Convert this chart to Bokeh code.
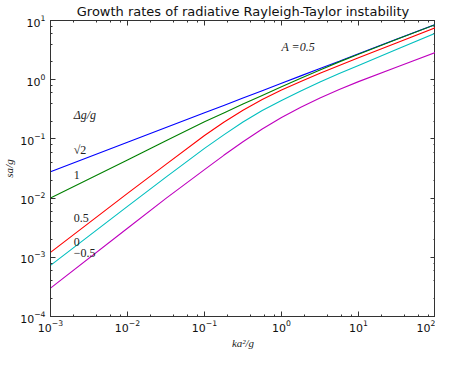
from bokeh.plotting import figure
from bokeh.models import LogAxis, LogTicker, Label, CustomJSTickFormatter
from bokeh.embed import file_html
from bokeh.resources import INLINE

# ---- data ----
ka2_g = [1e-3, 1e-2, 3.16e-2, 0.1, 0.178, 0.316, 0.562, 1.0, 1.78, 3.16, 5.62, 10.0, 31.6, 100.0]

s_sqrt2 = [0.0279, 0.0877, 0.156, 0.276, 0.368, 0.490, 0.653, 0.869, 1.16, 1.54, 2.05, 2.74, 4.85, 8.61]
s_1     = [0.0100, 0.0442, 0.0933, 0.195, 0.275, 0.387, 0.543, 0.762, 1.06, 1.46, 2.00, 2.70, 4.81, 8.55]
s_05    = [1.21e-3, 0.0120, 0.0372, 0.114, 0.191, 0.305, 0.462, 0.668, 0.933, 1.28, 1.74, 2.34, 4.22, 7.59]
s_0     = [7.30e-4, 7.24e-3, 0.0226, 0.0692, 0.117, 0.193, 0.302, 0.447, 0.646, 0.912, 1.27, 1.74, 3.26, 6.10]
s_m05   = [3.02e-4, 3.09e-3, 9.89e-3, 0.0302, 0.0528, 0.0896, 0.147, 0.230, 0.343, 0.490, 0.680, 0.928, 1.64, 2.88]

series = [s_sqrt2, s_1, s_05, s_0, s_m05]
colors = ["#0000ff", "#008000", "#ff0000", "#00bfbf", "#bf00bf"]

label_texts = ["Δg/g", "√2", "1", "0.5", "0", "−0.5"]
label_x = [0.002, 0.002, 0.002, 0.002, 0.002, 0.002]
label_y = [0.257, 0.066, 0.0243, 0.0047, 0.00183, 0.00119]

title_text = "Growth rates of radiative Rayleigh-Taylor instability"

p = figure(width=435, height=351, x_axis_type="log", y_axis_type="log",
           x_range=(1e-3, 1e2), y_range=(1e-4, 1e1),
           output_backend="svg", toolbar_location=None, title=title_text)
p.min_border_left = 42
p.min_border_right = 0
p.min_border_top = 14
p.min_border_bottom = 34
p.background_fill_color = "white"
p.border_fill_color = "white"
p.outline_line_color = "#333333"
p.grid.visible = False

p.title.text_font = "DejaVu Sans"
p.title.text_font_size = "13px"
p.title.text_font_style = "normal"
p.title.align = "center"
p.title.text_color = "#111111"
p.title.standoff = 3

for ax in (p.xaxis[0], p.yaxis[0]):
    ax.ticker = LogTicker(desired_num_ticks=6)
    ax.major_tick_in = 5
    ax.major_tick_out = 0
    ax.minor_tick_in = 2
    ax.minor_tick_out = 0
    ax.axis_line_color = "#333333"
    ax.major_tick_line_color = "#333333"
    ax.minor_tick_line_color = "#333333"
    ax.major_label_text_font = "DejaVu Sans"
    ax.major_label_text_font_size = "11px"
    ax.major_label_text_color = "#111111"
    ax.axis_label_text_font = "Liberation Serif"
    ax.axis_label_text_font_style = "italic"
    ax.axis_label_text_font_size = "11px"
    ax.axis_label_text_color = "#222222"

p.xaxis.axis_label = "ka²/g"
p.yaxis.axis_label = "sa/g"
p.xaxis.major_label_standoff = 3
p.yaxis.major_label_standoff = 5
p.xaxis.axis_label_standoff = 2
p.yaxis.axis_label_standoff = 2

for loc in ("above", "right"):
    ax = LogAxis(ticker=LogTicker(desired_num_ticks=6),
                 formatter=CustomJSTickFormatter(code="return ''"))
    ax.major_tick_in = 5
    ax.major_tick_out = 0
    ax.minor_tick_in = 2
    ax.minor_tick_out = 0
    ax.axis_line_color = "#333333"
    ax.major_tick_line_color = "#333333"
    ax.minor_tick_line_color = "#333333"
    ax.major_label_text_font_size = "1px"
    ax.major_label_standoff = 0
    ax.axis_label_standoff = 0
    p.add_layout(ax, loc)

for ys, c in zip(series, colors):
    p.line(ka2_g, ys, line_color=c, line_width=1.1)

for t, lx, ly in zip(label_texts, label_x, label_y):
    italic = t == "Δg/g"
    p.add_layout(Label(x=lx, y=ly, text=t, text_font="Liberation Serif",
                       text_font_size="12px", text_baseline="middle",
                       text_font_style="italic" if italic else "normal",
                       text_color="#222222"))

p.add_layout(Label(x=1.0, y=3.6, text="A =0.5", text_font="Liberation Serif",
                   text_font_size="12px", text_baseline="middle",
                   text_font_style="italic", text_color="#222222"))

open("out.html", "w").write(file_html(p, INLINE))
